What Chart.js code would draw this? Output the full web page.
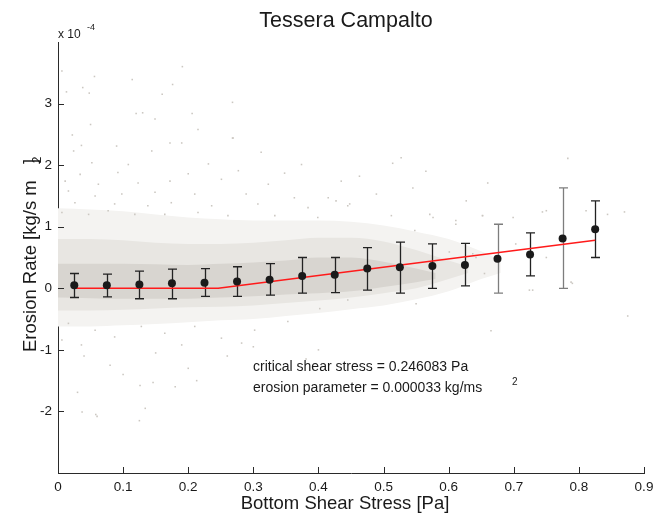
<!DOCTYPE html>
<html>
<head>
<meta charset="utf-8">
<script src="https://cdn.jsdelivr.net/npm/chart.js@4/dist/chart.umd.min.js"></script>
<style>
html,body{margin:0;padding:0;background:#fff;}
#wrap{width:655px;height:516px;position:relative;}
</style>
</head>
<body>
<div id="wrap"><canvas id="c" width="655" height="516"></canvas></div>
<script>
// ---- DATA (erosion rate in units of 1e-4 kg/s m^2) ----
const binX    = [0.025,0.075,0.125,0.175,0.225,0.275,0.325,0.375,0.425,0.475,0.525,0.575,0.625,0.675,0.725,0.775,0.825];
const binMean = [0.05,0.05,0.06,0.08,0.09,0.11,0.14,0.20,0.22,0.32,0.34,0.36,0.38,0.48,0.55,0.81,0.96];
const errTop  = [0.24,0.23,0.28,0.31,0.32,0.35,0.40,0.50,0.50,0.66,0.75,0.72,0.73,1.04,0.90,1.63,1.42];
const errBot  = [-0.15,-0.14,-0.17,-0.17,-0.13,-0.13,-0.11,-0.08,-0.07,-0.03,-0.08,0.00,0.04,-0.08,0.20,0.00,0.50];

const fitX = [0.025,0.246083,0.825];
const fitY = [0,0,0.78];

// dense core of the raw-data cloud (envelopes)
const coreX     = [0,0.05,0.1,0.15,0.2,0.25,0.3,0.35,0.4,0.45,0.5,0.55,0.58];
const coreUpper = [0.40,0.40,0.40,0.39,0.38,0.40,0.42,0.45,0.50,0.50,0.43,0.32,0.25];
const coreLower = [-0.15,-0.16,-0.17,-0.17,-0.17,-0.15,-0.13,-0.10,-0.08,-0.05,0.02,0.10,0.15];
// medium-density halo
const innerX     = [0,0.05,0.1,0.15,0.2,0.25,0.3,0.35,0.4,0.45,0.5,0.55,0.6,0.63];
const innerUpper = [0.80,0.80,0.78,0.74,0.72,0.72,0.74,0.78,0.82,0.82,0.76,0.62,0.45,0.35];
const innerLower = [-0.36,-0.36,-0.35,-0.33,-0.31,-0.30,-0.28,-0.24,-0.20,-0.15,-0.08,0.00,0.15,0.25];
// sparse outer halo
const outerX     = [0,0.05,0.1,0.15,0.2,0.25,0.3,0.35,0.4,0.45,0.5,0.55,0.6,0.65,0.68];
const outerUpper = [1.30,1.28,1.25,1.20,1.15,1.12,1.10,1.10,1.10,1.08,1.02,0.92,0.80,0.60,0.45];
const outerLower = [-0.62,-0.62,-0.60,-0.58,-0.55,-0.52,-0.50,-0.45,-0.40,-0.34,-0.28,-0.18,-0.05,0.15,0.25];

const scatterX = [0.006,0.013,0.038,0.048,0.056,0.114,0.191,0.176,0.160,0.268,0.120,0.130,0.149,0.206,0.050,0.215,0.022,0.268,
 0.527,0.514,0.565,0.463,0.783,
 0.036,0.090,0.172,0.190,0.269,0.024,0.144,0.312,0.052,0.108,0.231,0.374,0.034,0.092,0.200,0.277,0.348,0.011,0.062,0.123,0.172,0.251,0.323,0.435,
 0.016,0.057,0.098,0.149,0.210,0.289,0.363,0.415,0.026,0.087,0.138,0.174,0.236,0.307,0.384,0.445,0.006,0.047,0.077,0.118,0.164,0.215,0.261,0.333,0.399,
 0.016,0.057,0.087,0.128,0.164,0.210,0.251,0.302,0.353,0.006,0.036,0.190,0.282,0.445,
 0.030,0.037,0.058,0.060,0.125,0.134,0.126,0.146,0.213,
 0.040,0.080,0.150,0.200,0.260,0.330,0.100,0.180,0.300,0.400,
 0.875,0.665,0.870,0.844,0.811,0.750,0.652,0.788,0.724,0.750,0.703,0.637,0.655,0.611,0.576,0.381,0.402,0.550,
 0.744,0.729,0.790,0.660,0.627,
 0.427,0.448,0.489,0.545,0.512,0.571,0.611,0.548,0.652,0.699,0.601,0.642];
const scatterY = [3.53,3.19,3.26,3.17,3.44,3.39,3.60,3.31,3.15,3.02,2.84,2.85,2.75,2.84,2.66,2.58,2.49,2.44,
 2.12,2.03,1.90,1.82,2.11,
 2.32,2.31,2.36,2.36,2.44,2.23,2.23,2.21,2.04,2.01,2.02,2.01,1.85,1.88,1.86,1.91,1.87,1.74,1.69,1.71,1.74,1.77,1.69,1.74,
 1.58,1.50,1.53,1.56,1.53,1.53,1.47,1.47,1.39,1.37,1.34,1.39,1.34,1.37,1.31,1.34,1.23,1.20,1.26,1.20,1.20,1.23,1.18,1.18,1.15,
 -0.57,-0.68,-0.79,-0.62,-0.73,-0.62,-0.81,-0.68,-0.54,-0.84,-0.92,-0.92,-0.89,-0.19,
 -1.69,-2.01,-2.05,-2.08,-2.15,-1.95,-1.58,-1.53,-1.50,
 -1.10,-1.25,-1.05,-1.30,-1.10,-1.20,-1.40,-1.60,-0.95,-1.00,
 -0.45,-0.69,1.24,1.20,1.26,1.26,1.18,0.10,-0.03,0.50,0.72,0.56,0.24,1.04,1.15,-1.15,-0.33,-0.25,
 1.24,-0.03,0.08,1.71,1.42,
 1.42,1.37,1.53,1.63,1.18,1.20,1.10,0.94,1.18,1.15,0.59,0.50];

const xTickLabels = ['0','0.1','0.2','0.3','0.4','0.5','0.6','0.7','0.8','0.9'];
const yTickLabels = ['','-2','-1','0','1','2','3',''];

const titleText = 'Tessera Campalto';
const xTitle = 'Bottom Shear Stress [Pa]';
const yTitle = 'Erosion Rate [kg/s m';
const note1 = 'critical shear stress = 0.246083 Pa';
const note2 = 'erosion parameter = 0.000033 kg/ms';

// ---- STYLE ----
const FONT = '"Liberation Sans", Arial, sans-serif';
const AXIS_COLOR = '#2a2a2a';
const greyBarIdx = [13,15];

const pts = (xs, ys) => xs.map((x,i)=>({x:x, y:ys[i]}));

const envelope = (xs, ys, color, order, fill) => ({
  data: pts(xs, ys), showLine: true, borderColor: 'rgba(0,0,0,0)', borderWidth: 0,
  pointRadius: 0, backgroundColor: color, fill: fill, order: order, tension: 0.35,
  cubicInterpolationMode: 'monotone'
});

const decor = {
  id: 'decor',
  afterDatasetDraw(chart, args) {
    if (args.index !== 2) return;
    const ctx = chart.ctx, xs = chart.scales.x, ys = chart.scales.y;
    ctx.save();
    ctx.lineWidth = 1.3;
    binX.forEach((x, i) => {
      const px = Math.round(xs.getPixelForValue(x)) + 0.5;
      const t = ys.getPixelForValue(errTop[i]);
      const b = ys.getPixelForValue(errBot[i]);
      ctx.strokeStyle = greyBarIdx.includes(i) ? '#7d7d7d' : '#222';
      ctx.beginPath();
      ctx.moveTo(px, t); ctx.lineTo(px, b);
      ctx.moveTo(px - 4.5, t); ctx.lineTo(px + 4.5, t);
      ctx.moveTo(px - 4.5, b); ctx.lineTo(px + 4.5, b);
      ctx.stroke();
    });
    ctx.restore();
  },
  afterDraw(chart) {
    const ctx = chart.ctx, xs = chart.scales.x, ys = chart.scales.y, a = chart.chartArea;
    ctx.save();
    // inward tick marks
    ctx.strokeStyle = AXIS_COLOR; ctx.lineWidth = 1;
    ctx.beginPath();
    xs.ticks.forEach((t, i) => {
      if (!xTickLabels[i]) return;
      const px = Math.round(xs.getPixelForValue(t.value)) + 0.5;
      ctx.moveTo(px, a.bottom); ctx.lineTo(px, a.bottom - 6);
    });
    ys.ticks.forEach((t, i) => {
      if (!yTickLabels[i]) return;
      const py = Math.round(ys.getPixelForValue(t.value)) + 0.5;
      ctx.moveTo(a.left, py); ctx.lineTo(a.left + 6, py);
    });
    ctx.stroke();

    ctx.fillStyle = '#1a1a1a';
    // title
    ctx.font = '21.5px ' + FONT;
    ctx.textAlign = 'center'; ctx.textBaseline = 'alphabetic';
    ctx.fillText(titleText, 346, 27);
    // exponent label
    ctx.font = '12px ' + FONT;
    ctx.textAlign = 'left';
    ctx.fillText('x 10', 58, 38);
    ctx.font = '9px ' + FONT;
    ctx.fillText('-4', 87, 30);
    // x title
    ctx.font = '18.5px ' + FONT;
    ctx.textAlign = 'center';
    ctx.fillText(xTitle, 345, 509);
    // y title
    ctx.save();
    ctx.translate(36, 352);
    ctx.rotate(-Math.PI / 2);
    ctx.font = '18.5px ' + FONT;
    ctx.textAlign = 'left';
    ctx.fillText(yTitle, 0, 0);
    ctx.fillText(']', 188, 0);
    ctx.restore();
    ctx.save();
    ctx.translate(41, 160);
    ctx.rotate(-Math.PI / 2);
    ctx.font = '12px ' + FONT;
    ctx.textAlign = 'center';
    ctx.fillText('2', 0, 0);
    ctx.restore();
    // notes
    ctx.font = '14px ' + FONT;
    ctx.textAlign = 'left';
    ctx.fillText(note1, 253, 371);
    ctx.fillText(note2, 253, 392);
    ctx.font = '10px ' + FONT;
    ctx.fillText('2', 512, 385);
    ctx.restore();
  }
};

new Chart(document.getElementById('c'), {
  type: 'line',
  data: {
    datasets: [
      { data: pts(binX, binMean), showLine: false, pointRadius: 4, pointBackgroundColor: '#1a1a1a',
        pointBorderColor: '#1a1a1a', pointBorderWidth: 0, order: 0 },
      { data: pts(fitX, fitY), showLine: true, borderColor: '#ff1a1a', borderWidth: 1.5,
        pointRadius: 0, fill: false, order: 1, tension: 0 },
      { data: pts(scatterX, scatterY), showLine: false, pointStyle: 'rect', pointRadius: 1.1,
        pointBackgroundColor: '#cbc7c1', pointBorderWidth: 0, order: 2 },
      envelope(coreX, coreUpper, '#d8d5d0', 3, '+1'),
      envelope(coreX, coreLower, 'rgba(0,0,0,0)', 4, false),
      envelope(innerX, innerUpper, '#e8e6e2', 5, '+1'),
      envelope(innerX, innerLower, 'rgba(0,0,0,0)', 6, false),
      envelope(outerX, outerUpper, '#f4f3f1', 7, '+1'),
      envelope(outerX, outerLower, 'rgba(0,0,0,0)', 8, false)
    ]
  },
  options: {
    responsive: false,
    animation: false,
    events: [],
    layout: { padding: { top: 42, right: 11, left: 0, bottom: 0 } },
    plugins: { legend: { display: false }, tooltip: { enabled: false }, title: { display: false } },
    scales: {
      x: {
        type: 'linear', min: 0, max: 0.9,
        ticks: { stepSize: 0.1, padding: 6, color: '#1a1a1a', font: { family: FONT, size: 13.5 },
                 maxRotation: 0, autoSkip: false, callback: (v, i) => xTickLabels[i] },
        grid: { display: false, drawTicks: false },
        border: { display: true, color: AXIS_COLOR, width: 1 },
        afterFit: s => { s.height = 43; s.paddingLeft = 0; s.paddingRight = 0; }
      },
      y: {
        type: 'linear', min: -3, max: 4,
        ticks: { stepSize: 1, padding: 6, color: '#1a1a1a', font: { family: FONT, size: 13.5 },
                 autoSkip: false, callback: (v, i) => yTickLabels[i] },
        grid: { display: false, drawTicks: false },
        border: { display: true, color: AXIS_COLOR, width: 1 },
        afterFit: s => { s.width = 58; s.paddingTop = 0; s.paddingBottom = 0; }
      }
    }
  },
  plugins: [decor]
});
</script>
</body>
</html>
